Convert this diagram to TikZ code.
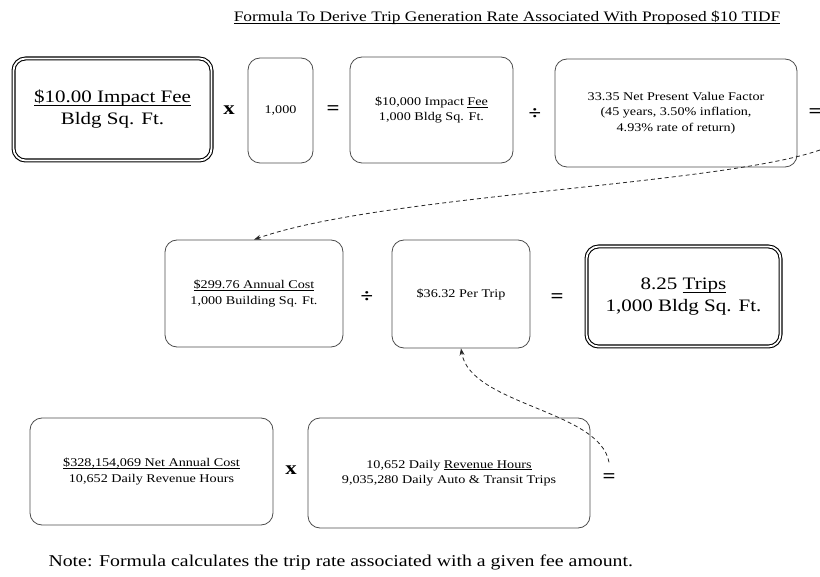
\documentclass[tikz,border=0pt]{standalone}
\usepackage{fontspec}
\setmainfont{Liberation Serif}[FakeStretch=1.2]
\usetikzlibrary{arrows.meta}
\newsavebox{\ulinbox}
\newcommand{\ulin}[1]{\leavevmode\sbox{\ulinbox}{#1}\rlap{\rule[-0.17em]{\wd\ulinbox}{0.05em}}\usebox{\ulinbox}}
\begin{document}
\begin{tikzpicture}[x=1pt,y=-1pt,
  box/.style={draw=black!70, line width=0.8pt, rounded corners=12pt, align=center, inner sep=0pt},
  bigbox/.style={draw=black, line width=1.1pt, double=white, double distance=1.8pt, rounded corners=12pt, align=center, inner sep=0pt},
  small/.style={font=\fontsize{11.8}{15.5}\selectfont},
  large/.style={font=\fontsize{17.5}{22}\selectfont},
  op/.style={font=\fontsize{19}{19}\selectfont\bfseries, inner sep=1pt},
  flow/.style={draw=black!85, line width=0.8pt, dash pattern=on 4pt off 3pt, -{Stealth[length=7pt,width=5pt]}}]
\useasboundingbox (0,0) rectangle (820,577);

\node[font=\fontsize{14.5}{16}\selectfont] (title) at (507,18)
  {\ulin{Formula To Derive Trip Generation Rate Associated With Proposed \$10 TIDF}};

% row 1
\node[bigbox, large, minimum width=198pt, minimum height=102pt] (A) at (112.5,109.5)
  {\ulin{\$10.00 Impact Fee}\\Bldg Sq. Ft.};
\node[op] (x1) at (229,110) {x};
\node[box, small, minimum width=65pt, minimum height=105pt] (B) at (280.5,110.5) {1,000};
\node[op] (eq1) at (333,110) {=};
\node[box, small, minimum width=163pt, minimum height=106pt] (C) at (431.5,110)
  {\$10,000 Impact \ulin{Fee}\\1,000 Bldg Sq. Ft.};
\node[op] (div1) at (535,114) {÷};
\node[box, small, minimum width=242pt, minimum height=108pt] (D) at (676,113)
  {33.35 Net Present Value Factor\\(45 years, 3.50\% inflation,\\4.93\% rate of return)};
\node[op] (eq2) at (815,113) {=};
\coordinate (s1) at (820,150);

% row 2
\node[box, small, minimum width=178pt, minimum height=107pt] (E) at (254,293.5)
  {\ulin{\$299.76 Annual Cost}\\1,000 Building Sq. Ft.};
\node[op] (div2) at (367,297) {÷};
\node[box, small, minimum width=138pt, minimum height=108pt] (F) at (461,294) {\$36.32 Per Trip};
\node[op] (eq3) at (557,298) {=};
\node[bigbox, large, minimum width=194pt, minimum height=100pt] (G) at (683.5,296.5)
  {8.25 \ulin{Trips}\\1,000 Bldg Sq. Ft.};

% row 3
\node[box, small, minimum width=243pt, minimum height=107pt] (H) at (151.5,471.5)
  {\ulin{\$328,154,069 Net Annual Cost}\\10,652 Daily Revenue Hours};
\node[op] (x2) at (291,470) {x};
\node[box, small, minimum width=282pt, minimum height=110pt] (I) at (449,473)
  {10,652 Daily \ulin{Revenue Hours}\\9,035,280 Daily Auto \& Transit Trips};
\node[op] (eq4) at (609,478) {=};

% connectors
\draw[flow] (s1) .. controls (720,185) and (380,195) .. (E.north);
\draw[flow] ([yshift=10pt]eq4.north) .. controls (600,410) and (470,405) .. (F.south);

\node[anchor=west, font=\fontsize{16.5}{18}\selectfont] (note) at (45,562)
  {Note: Formula calculates the trip rate associated with a given fee amount.};
\end{tikzpicture}
\end{document}
